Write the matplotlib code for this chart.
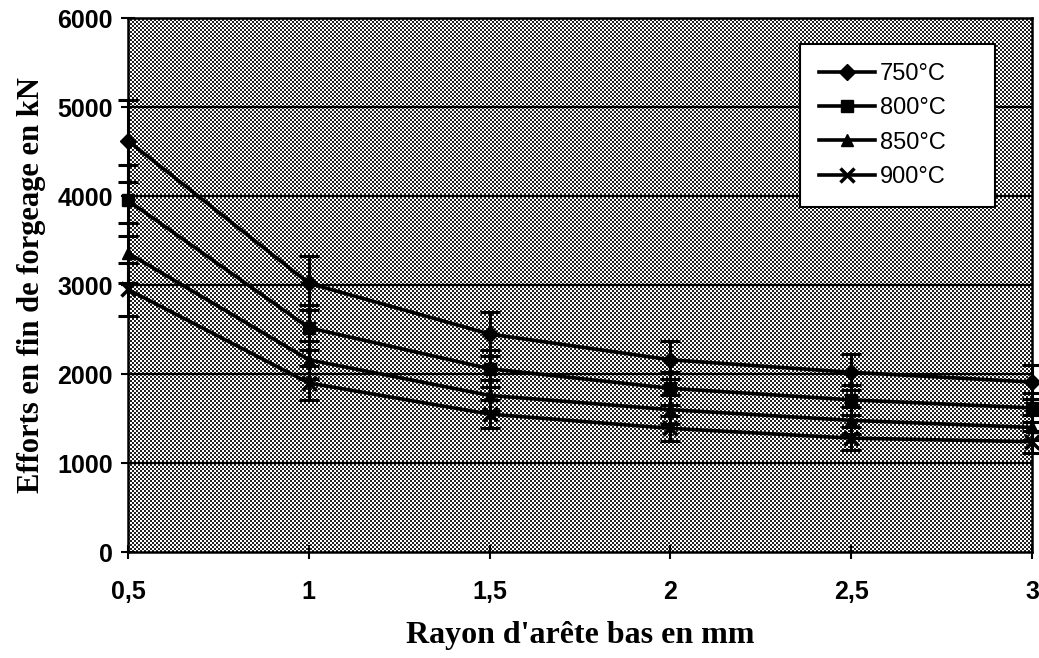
import numpy as np
import matplotlib.pyplot as plt

# Rayon d'arête bas (mm) et efforts en fin de forgeage (kN) par température
rayon = [0.5, 1, 1.5, 2, 2.5, 3]
rayon_labels = ['0,5', '1', '1,5', '2', '2,5', '3']
effort_750 = [4620, 3020, 2450, 2160, 2020, 1910]
effort_800 = [3950, 2520, 2060, 1840, 1710, 1620]
effort_850 = [3360, 2160, 1760, 1600, 1480, 1400]
effort_900 = [2950, 1900, 1550, 1390, 1280, 1240]
temperatures = ['750°C', '800°C', '850°C', '900°C']
y_ticks = [0, 1000, 2000, 3000, 4000, 5000, 6000]

series = [effort_750, effort_800, effort_850, effort_900]
markers = ['D', 's', '^', 'x']
msizes = [8, 8, 9, 10]

plt.rcParams['font.family'] = 'Liberation Sans'

fig = plt.figure(figsize=(10.39, 6.58), dpi=100)
ax = fig.add_axes([0.1232, 0.161, 0.870, 0.8116])

# fond tramé (damier fin)
h, w = 267, 452
yy, xx = np.mgrid[0:h, 0:w]
trame = ((xx + yy) % 2).astype(float)
ax.imshow(trame, cmap='gray', vmin=-0.15, vmax=1.0, aspect='auto',
          interpolation='nearest', extent=[0, 1, 0, 1],
          transform=ax.transAxes, zorder=0)

for yv in y_ticks[1:-1]:
    ax.axhline(yv, color='black', lw=1.6, zorder=1)

for vals, lab, m, ms in zip(series, temperatures, markers, msizes):
    vals = np.array(vals)
    ax.errorbar(rayon, vals, yerr=0.1 * vals, fmt='none', ecolor='black',
                elinewidth=2.2, capsize=7, capthick=2.2, zorder=3, clip_on=False)
    ax.plot(rayon, vals, color='black', lw=2.6, marker=m, markersize=ms,
            markeredgewidth=2.5 if m == 'x' else 1, label=lab, zorder=4,
            clip_on=False)

ax.set_xlim(0.5, 3)
ax.set_ylim(0, 6000)
ax.set_xticks(rayon, rayon_labels, fontweight='bold', fontsize=18)
ax.set_yticks(y_ticks, [str(v) for v in y_ticks], fontweight='bold', fontsize=18)

ax.tick_params(axis='both', direction='inout', length=10, width=1.5, color='black')
ax.tick_params(axis='x', pad=15)
ax.tick_params(axis='y', pad=6)
for sp in ax.spines.values():
    sp.set_linewidth(1.8)
    sp.set_zorder(5)

ax.set_xlabel("Rayon d'arête bas en mm", fontfamily='Liberation Serif',
              fontweight='bold', fontsize=23, labelpad=12)
ax.set_ylabel('Efforts en fin de forgeage en kN', fontfamily='Liberation Serif',
              fontweight='bold', fontsize=22, labelpad=8)

# légende : cadre blanc en haut à droite
leg = ax.legend(loc='upper left', bbox_to_anchor=(0.743, 0.651, 0.216, 0.30),
                mode='expand', frameon=True, fancybox=False, edgecolor='black',
                framealpha=1, prop={'family': 'Liberation Sans', 'size': 17},
                handlelength=2.4, handletextpad=0.2, labelspacing=0.52,
                borderpad=0.8, borderaxespad=0)
leg.get_frame().set_linewidth(1.5)
leg.set_zorder(6)

fig.savefig('out.png', dpi=100)
